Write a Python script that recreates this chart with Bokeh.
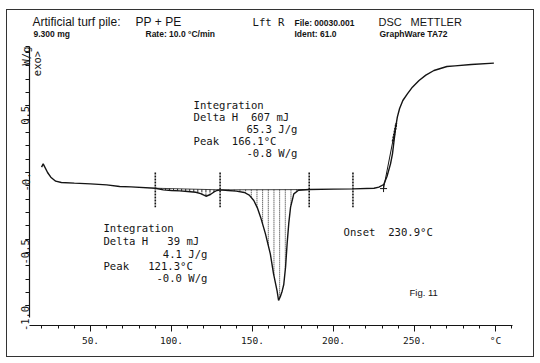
import numpy as np
from math import pi
from bokeh.plotting import figure
from bokeh.models import Range1d, FixedTicker, Label
from bokeh.embed import file_html
from bokeh.resources import INLINE

# ---- data ----
temperature = [19.8, 20.8, 23.5, 25.5, 28.5, 32, 40, 50, 60, 68, 75, 90, 95, 100, 105,
               110, 115, 118, 121.3, 124, 126, 128, 130, 135, 140, 145, 148, 150.8, 153,
               155, 158, 161, 163, 165.2, 166.1, 167.2, 168.3, 169.3, 170.4, 171.4, 172.4,
               173.5, 175.5, 178.4, 185, 200, 212, 225, 228, 231, 233, 235.2, 236.4, 237.4,
               238.4, 239.4, 240.8, 242.8, 245.6, 248.7, 252.8, 257, 262, 266, 270, 275,
               285, 299]
heat_flow = [0.04, 0.065, 0.0, -0.035, -0.065, -0.075, -0.08, -0.085, -0.093, -0.105,
             -0.108, -0.118, -0.13, -0.135, -0.138, -0.142, -0.148, -0.158, -0.178,
             -0.165, -0.148, -0.135, -0.13, -0.135, -0.14, -0.15, -0.17, -0.21, -0.265,
             -0.335, -0.46, -0.61, -0.76, -0.89, -0.96, -0.93, -0.89, -0.84, -0.71, -0.53,
             -0.38, -0.26, -0.16, -0.133, -0.128, -0.125, -0.123, -0.118, -0.11, -0.09,
             -0.03, 0.065, 0.14, 0.24, 0.34, 0.415, 0.48, 0.54, 0.59, 0.64, 0.69, 0.73,
             0.765, 0.78, 0.795, 0.80, 0.81, 0.82]

integration1_limits = [90, 130]
integration2_limits = [130, 185]
marker_T = [90, 130, 185, 212]
onset_T = 230.9
tangent_T = [230.9, 238.8]
tangent_v = [-0.12, 0.37]

x_ticks = [50, 100, 150, 200, 250, 300]
x_labels = ["50.", "100.", "150.", "200.", "250.", "°C"]
x_minor = list(range(20, 311, 10))
y_ticks = [-1.0, -0.5, 0.0, 0.5, 0.945]
y_labels = ["-1.0", "-0.5", "-0.", "0.5", "W/g"]
y_minor = [round(-1.0 + 0.1 * i, 1) for i in range(20)]

T = np.array(temperature, dtype=float)
V = np.array(heat_flow, dtype=float)

INK = "#141414"
MONO = "DejaVu Sans Mono"
SANS = "Liberation Sans"
NB = "\u00a0"

# page-pixel -> data helpers (for text placement only)
def tx(px):
    return 50 + (px - 90) / 1.62

def vy(py):
    return (172 - py) / 133.33

p = figure(width=526, height=346,
           x_range=Range1d(12.35, 321.6), y_range=Range1d(-1.1475, 1.2),
           output_backend="svg", toolbar_location=None,
           min_border_left=22, min_border_right=3, min_border_top=2, min_border_bottom=31)
p.grid.visible = False
p.outline_line_color = None
p.background_fill_color = "white"
p.border_fill_color = "white"
p.styles = {"margin-left": "7px", "margin-top": "10px", "outline": "1px solid #333"}

# x axis
xa = p.xaxis[0]
xa.ticker = FixedTicker(ticks=x_ticks, minor_ticks=x_minor)
xa.major_label_overrides = dict(zip(x_ticks, x_labels))
xa.bounds = (12.35, 310.5)
xa.major_tick_in = 0
xa.major_tick_out = 6
xa.minor_tick_in = 0
xa.minor_tick_out = 3
xa.major_label_standoff = 3
xa.major_label_text_font = MONO
xa.major_label_text_font_size = "9.5px"
xa.major_label_text_color = INK
xa.axis_line_color = INK
xa.major_tick_line_color = INK
xa.minor_tick_line_color = INK
xa.axis_line_width = 1.2

# y axis
ya = p.yaxis[0]
ya.ticker = FixedTicker(ticks=y_ticks, minor_ticks=y_minor)
ya.major_label_overrides = dict(zip(y_ticks, y_labels))
ya.bounds = (-1.09, 0.945)
ya.major_tick_in = 0
ya.major_tick_out = 4
ya.minor_tick_in = 0
ya.minor_tick_out = 4
ya.major_label_standoff = 0
ya.major_label_orientation = pi / 2
ya.major_label_text_font = MONO
ya.major_label_text_font_size = "10.5px"
ya.major_label_text_color = INK
ya.axis_line_color = INK
ya.major_tick_line_color = INK
ya.minor_tick_line_color = INK
ya.axis_line_width = 1.2

# integration baselines and hatching
for (a, b), step, dash in [(integration1_limits, 2.5, "3 1"), (integration2_limits, 3.5, "1 1")]:
    ba = float(np.interp(a, T, V))
    bb = float(np.interp(b, T, V))
    p.line([a, b], [ba, bb], line_color=INK, line_width=0.8)
    hx = np.arange(a + step / 2, b, step)
    base = np.interp(hx, [a, b], [ba, bb])
    curve = np.interp(hx, T, V)
    p.segment(x0=hx, y0=base, x1=hx, y1=curve, line_color=INK, line_width=0.9,
              line_dash=dash)

# main curve
p.line(T, V, line_color=INK, line_width=1.4)

# integration limit markers
p.segment(x0=marker_T, y0=[0.0] * len(marker_T), x1=marker_T, y1=[-0.26] * len(marker_T),
          line_color=INK, line_width=1.6, line_dash="2 1")

# onset tangent
p.line(tangent_T, tangent_v, line_color=INK, line_width=1.0)
p.segment(x0=[tangent_T[0] + 0.72 * (tangent_T[1] - tangent_T[0])],
          y0=[tangent_v[0] + 0.72 * (tangent_v[1] - tangent_v[0])],
          x1=[tangent_T[1]], y1=[tangent_v[1]],
          line_color=INK, line_width=2.2, line_dash="2 1")
p.scatter([onset_T], [float(np.interp(onset_T, T, V)) - 0.03], marker="cross", size=7,
          line_color=INK, line_width=1)


def lab(x, y, text, font=MONO, size="10.6px", style="normal", align="left", angle=0):
    p.add_layout(Label(x=x, y=y, text=text.replace(" ", NB), text_font=font,
                       text_font_size=size, text_font_style=style, text_color=INK,
                       text_align=align, text_baseline="middle", angle=angle))

# header
lab(tx(32), vy(22), "Artificial turf pile:", font=SANS, size="12px")
lab(tx(135), vy(22), "PP + PE", font=SANS, size="12px")
lab(tx(252), vy(22), "Lft R", size="10.6px")
lab(tx(294), vy(23), "File: 00030.001", font=SANS, size="8.5px", style="bold")
lab(tx(378), vy(22), "DSC", font=SANS, size="11px")
lab(tx(410), vy(22), "METTLER", font=SANS, size="11px")
lab(tx(33), vy(34), "9.300 mg", font=SANS, size="8.5px", style="bold")
lab(tx(145), vy(34), "Rate: 10.0 °C/min", font=SANS, size="8.5px", style="bold")
lab(tx(294), vy(34), "Ident: 61.0", font=SANS, size="8.5px", style="bold")
lab(tx(379), vy(34), "GraphWare TA72", font=SANS, size="8.5px", style="bold")

# exo direction caption
lab(tx(37), vy(63), "exo>", size="10.5px", align="center", angle=pi / 2)

# integration 2 block
lab(tx(193), vy(104.5), "Integration")
lab(tx(193), vy(116.5), "Delta H  607 mJ")
lab(tx(297), vy(128.5), "65.3 J/g", align="right")
lab(tx(193), vy(141), "Peak  166.1°C")
lab(tx(297), vy(153), "-0.8 W/g", align="right")

# integration 1 block
lab(tx(103), vy(227.5), "Integration")
lab(tx(103), vy(240), "Delta H   39 mJ")
lab(tx(207), vy(253), "4.1 J/g", align="right")
lab(tx(103), vy(265.5), "Peak   121.3°C")
lab(tx(207), vy(277.5), "-0.0 W/g", align="right")

# onset and figure number
lab(tx(343), vy(231), "Onset  230.9°C")
lab(tx(409), vy(292), "Fig. 11", font=SANS, size="9.5px")

open("out.html", "w").write(file_html(p, INLINE))
